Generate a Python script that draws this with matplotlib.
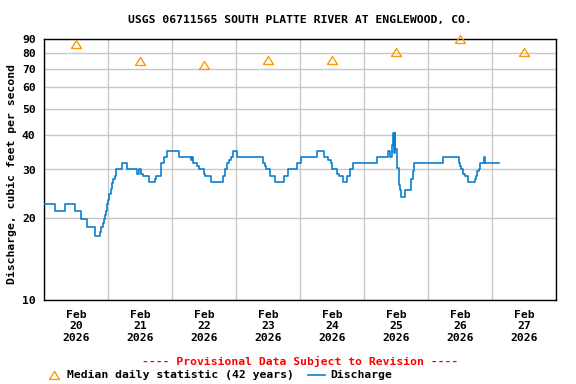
import numpy as np
import pandas as pd
import matplotlib
matplotlib.use('Agg')
import matplotlib.pyplot as plt
import matplotlib.dates as mdates
from matplotlib.lines import Line2D
from matplotlib.ticker import FixedLocator, NullFormatter, NullLocator

plt.rcParams['font.family'] = 'DejaVu Sans Mono'
plt.rcParams['font.weight'] = 'bold'
FS = 8.2

title = 'USGS 06711565 SOUTH PLATTE RIVER AT ENGLEWOOD, CO.'
start = pd.Timestamp('2026-02-20')

# discharge, step changes: hours since Feb 20 00:00, cfs
q_hours = [0, 4.0, 8.0, 11.75, 14.0, 16.25, 19.0, 21.0, 21.5, 22.0, 22.5, 23.0,
           23.25, 23.75, 24.0, 24.5, 25.0, 25.5, 26.0, 26.5, 27.0, 29.25, 31.0,
           35.0, 35.75, 36.25, 37.0, 39.5, 41.5, 42.0, 43.75, 44.0, 45.0, 46.0,
           50.75, 55.25, 55.5, 56.0, 57.25, 58.0, 60.0, 60.5, 62.5, 67.0, 67.25,
           68.0, 68.75, 69.5, 70.0, 71.0, 72.5, 82.0, 82.75, 83.25, 84.75, 86.75,
           90.0, 91.5, 94.75, 96.5, 102.5, 105.0, 106.5, 107.5, 108.0, 110.0,
           110.5, 112.0, 113.75, 114.75, 116.0, 125.0, 129.0, 129.75, 130.5,
           131.0, 131.25, 131.5, 131.75, 132.25, 132.5, 133.0, 133.5, 134.0,
           135.5, 137.5, 137.75, 138.25, 138.75, 149.5, 155.5, 156.0, 156.5,
           157.25, 158.0, 159.0, 161.5, 162.0, 162.5, 163.0, 163.5, 165.0,
           165.5, 170.5]
q_cfs = [22.4, 21.2, 22.4, 21.2, 19.7, 18.5, 17.1, 17.8, 18.5, 19.1, 19.7, 20.5,
         21.2, 22.4, 23.3, 24.4, 25.4, 26.7, 27.6, 28.4, 30.0, 31.6, 30.0,
         29.0, 30.0, 29.0, 28.4, 26.9, 27.6, 28.4, 30.0, 31.6, 33.3, 35.0,
         33.3, 32.5, 33.3, 31.6, 30.9, 30.0, 29.0, 28.4, 26.9, 27.6, 28.4,
         30.0, 31.6, 32.5, 33.3, 35.0, 33.3, 31.6, 30.9, 30.0, 28.4, 26.9,
         28.4, 30.0, 31.6, 33.3, 35.0, 33.3, 32.5, 31.6, 30.0, 29.0,
         28.4, 26.9, 28.4, 30.0, 31.6, 33.3, 35.0, 33.3, 36.9,
         40.7, 34.5, 40.7, 35.8, 33.0, 30.3, 26.3, 25.3, 23.9,
         25.3, 26.3, 27.8, 29.5, 31.6, 33.3, 31.6, 30.9, 30.0,
         29.0, 28.4, 26.9, 27.6, 28.4, 29.5, 30.0, 31.6, 33.3,
         31.6, 31.6]

# median daily statistic at noon of each day
med_days = ['2026-02-20', '2026-02-21', '2026-02-22', '2026-02-23',
            '2026-02-24', '2026-02-25', '2026-02-26', '2026-02-27']
med_cfs = [86.5, 74.5, 72.1, 75.3, 75.3, 81.0, 89.7, 81.0]

y_ticks = [10, 20, 30, 40, 50, 60, 70, 80, 90]

q_time = start + pd.to_timedelta(q_hours, unit='h')
med_time = pd.to_datetime(med_days) + pd.Timedelta(hours=12)

# flat open triangle like the USGS marker
tri = [(-1, -0.8), (0, 0.8), (1, -0.8), (-1, -0.8)]

fig = plt.figure(figsize=(5.76, 3.84), dpi=100)
ax = fig.add_axes([44 / 576, 1 - 300 / 384, 512 / 576, 261 / 384])

ax.plot(q_time, q_cfs, color='#0a7fd0', lw=1.2, drawstyle='steps-post', zorder=3)
ax.plot(med_time, med_cfs, linestyle='none', marker=tri, markersize=7.2,
        markerfacecolor='none', markeredgecolor='#ff9900', markeredgewidth=1.0,
        clip_on=False, zorder=4)

ax.set_yscale('log')
ax.set_ylim(10, 90)
ax.yaxis.set_major_locator(FixedLocator(y_ticks))
ax.yaxis.set_minor_locator(NullLocator())
ax.set_yticklabels([str(v) for v in y_ticks])
ax.yaxis.set_minor_formatter(NullFormatter())

ax.set_xlim(start, start + pd.Timedelta(days=8))
ax.xaxis.set_major_locator(mdates.DayLocator())
ax.xaxis.set_major_formatter(NullFormatter())
ax.xaxis.set_minor_locator(mdates.HourLocator(byhour=[12]))
ax.xaxis.set_minor_formatter(mdates.DateFormatter('%b\n%d\n%Y'))

ax.grid(True, which='major', color='#c8c8c8', lw=1.0)
ax.set_axisbelow(True)
ax.tick_params(axis='both', which='both', length=0, labelsize=FS)
ax.tick_params(axis='y', pad=6)
ax.tick_params(axis='x', which='minor', pad=7)
for lab in ax.get_xticklabels(minor=True):
    lab.set_linespacing(1.2)
for sp in ax.spines.values():
    sp.set_color('black')
    sp.set_linewidth(1.0)

fig.text(300 / 576, 1 - 20 / 384, title, ha='center', va='center', fontsize=FS)
fig.text(12 / 576, 1 - 174 / 384, 'Discharge, cubic feet per second',
         rotation=90, ha='center', va='center', fontsize=FS)
fig.text(300 / 576, 1 - 361 / 384, '---- Provisional Data Subject to Revision ----',
         ha='center', va='center', fontsize=FS, color='red')

# legend row
ly = 1 - 375 / 384
fig.add_artist(Line2D([53.5 / 576], [ly], marker=tri, markersize=7.2,
                      markerfacecolor='none', markeredgecolor='#ff9900',
                      markeredgewidth=1.0, linestyle='none', transform=fig.transFigure))
fig.text(67 / 576, ly, 'Median daily statistic (42 years)', ha='left', va='center', fontsize=FS)
fig.add_artist(Line2D([308 / 576, 325 / 576], [ly, ly], color='#0a7fd0', lw=1.2,
                      transform=fig.transFigure))
fig.text(330 / 576, ly, 'Discharge', ha='left', va='center', fontsize=FS)

fig.savefig('out.png', dpi=100)
